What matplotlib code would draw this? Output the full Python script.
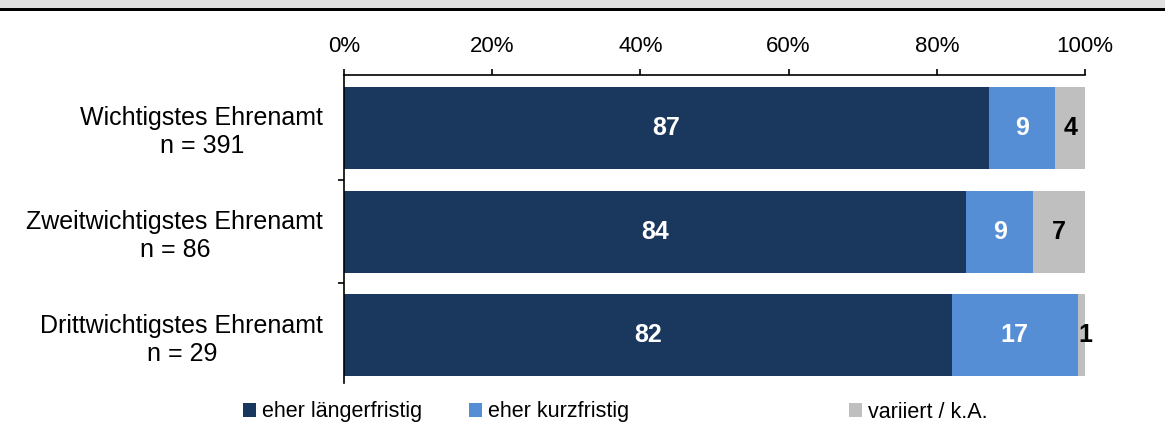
import matplotlib.pyplot as plt
from matplotlib.patches import Rectangle, Patch

plt.rcParams['font.family'] = ['Liberation Sans', 'DejaVu Sans']

# Data
categories = ["Wichtigstes Ehrenamt\nn = 391",
              "Zweitwichtigstes Ehrenamt\nn = 86",
              "Drittwichtigstes Ehrenamt\nn = 29"]
laenger = [87, 84, 82]
kurz = [9, 9, 17]
variiert = [4, 7, 1]
series_names = ["eher längerfristig", "eher kurzfristig", "variiert / k.A."]
colors = ["#1a375e", "#558ed5", "#bfbfbf"]
text_colors = ["white", "white", "black"]

fig = plt.figure(figsize=(11.65, 4.41), dpi=100)

# header band and rule at the very top
fig.patches.append(Rectangle((0, 1 - 8 / 441), 1, 8 / 441, transform=fig.transFigure,
                             facecolor="#e0e0e0", edgecolor="none"))
fig.patches.append(Rectangle((0, 1 - 11 / 441), 1, 3 / 441, transform=fig.transFigure,
                             facecolor="black", edgecolor="none"))

ax = fig.add_axes([344 / 1165, 1 - 383 / 441, (1085 - 344) / 1165, (383 - 75) / 441])

ypos = range(len(categories))
left = [0] * len(categories)
for vals, col, tc in zip([laenger, kurz, variiert], colors, text_colors):
    bars = ax.barh(ypos, vals, left=left, height=0.79, color=col,
                   edgecolor="none")
    for b, v in zip(bars, vals):
        x = b.get_x() + b.get_width() / 2
        if v < 3:
            x = b.get_x() + b.get_width() + 0.1
        ax.text(x, b.get_y() + b.get_height() / 2, str(v), ha="center", va="center",
                color=tc, fontsize=18, fontweight="bold")
    left = [l + v for l, v in zip(left, vals)]

ax.set_xlim(0, 100)
ax.set_ylim(2.46, -0.51)
ax.xaxis.tick_top()
ax.set_xticks(range(0, 101, 20))
ax.set_xticklabels([f"{t}%" for t in range(0, 101, 20)])
ax.tick_params(axis="x", labelsize=16, length=4.5, width=1.2, pad=8.5, direction="out")

ax.set_yticks(list(ypos))
ax.set_yticklabels(categories, fontsize=18, multialignment="center")
ax.tick_params(axis="y", which="major", length=0, pad=15)
ax.set_yticks([0.5, 1.5], minor=True)
ax.tick_params(axis="y", which="minor", length=4.5, width=1.2, direction="out")

for s in ["right", "bottom"]:
    ax.spines[s].set_visible(False)
for s in ["top", "left"]:
    ax.spines[s].set_linewidth(1.2)

# legend entries placed individually
legend_x = [243 / 1165, 469 / 1165, 849 / 1165]
for name, col, lx in zip(series_names, colors, legend_x):
    fig.legend(handles=[Patch(facecolor=col, edgecolor="none")], labels=[name],
               loc="center left", bbox_to_anchor=(lx, 1 - 412 / 441), frameon=False,
               fontsize=15.5, handlelength=0.6, handleheight=0.6, handletextpad=0.3,
               borderpad=0, borderaxespad=0)

fig.savefig("out.png", dpi=100)
